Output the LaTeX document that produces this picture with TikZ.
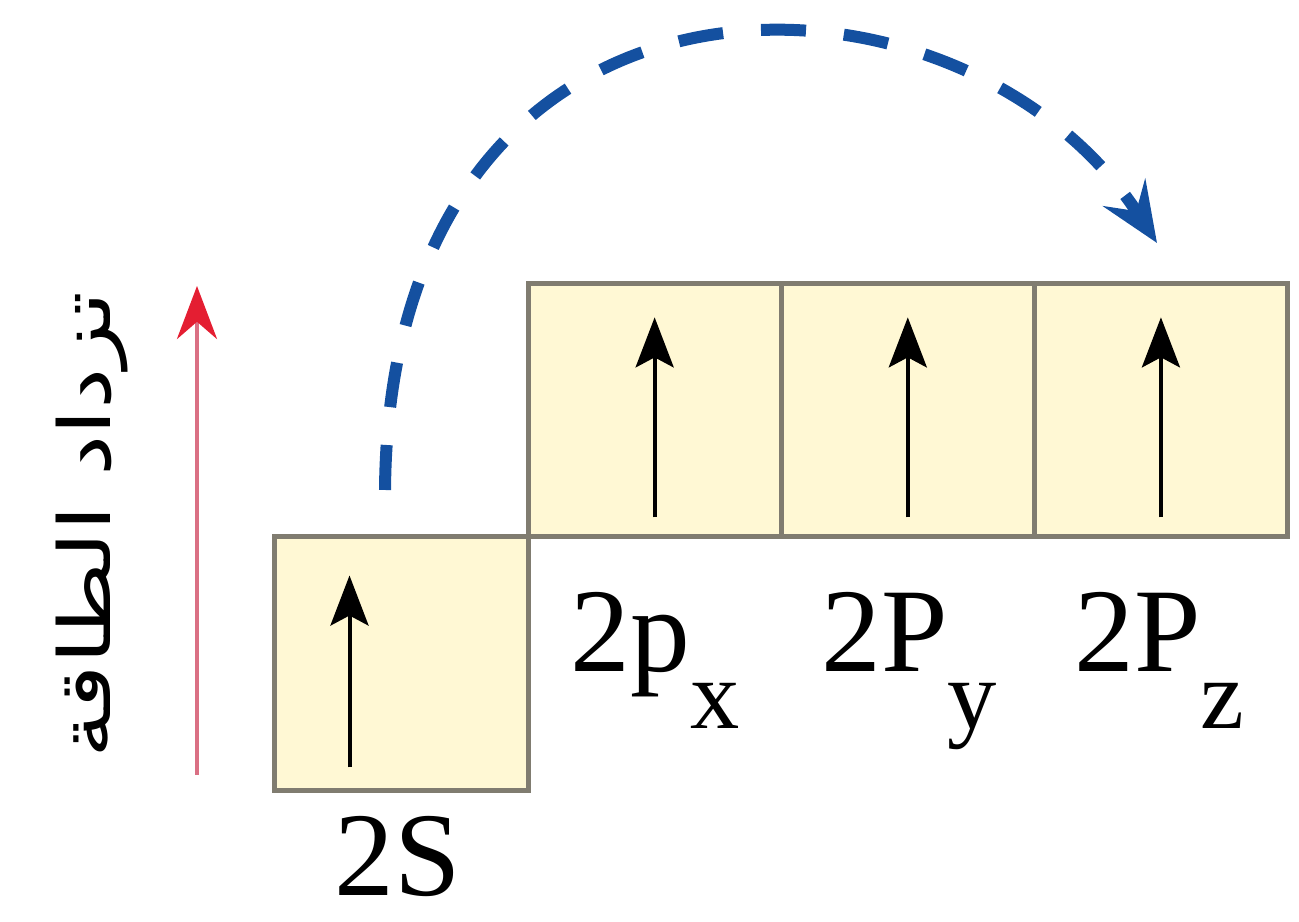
\documentclass[tikz,border=0pt]{standalone}
\usepackage{fontspec}
\setmainfont{Liberation Serif}
\newfontfamily\arabicfont[Script=Arabic]{DejaVu Sans}
\TeXXeTstate=1
\usetikzlibrary{arrows.meta,positioning}
\definecolor{BoxFill}{RGB}{255,248,212}
\definecolor{BoxLine}{RGB}{128,124,112}
\definecolor{Blue1}{RGB}{20,80,160}
\definecolor{Red1}{RGB}{228,30,50}
\definecolor{Pink1}{RGB}{218,112,132}
\tikzset{
  orbital/.style={draw=BoxLine,fill=BoxFill,line width=0.05cm,minimum size=2.53cm,inner sep=0pt,outer sep=0pt},
  spin/.style={line width=0.04cm,-{Stealth[length=0.5cm,width=0.38cm,inset=0.1cm]}},
  jump/.style={Blue1,line width=0.12cm,dash pattern=on 0.45cm off 0.38cm,-{Stealth[length=0.6cm,width=0.5cm,inset=0.22cm]}},
  energy/.style={Pink1,line width=0.045cm,-{Stealth[color=Red1,length=0.53cm,width=0.4cm]}},
  lbl/.style={font=\fontsize{34}{34}\selectfont,inner sep=0pt,anchor=base west}
}
\newcommand{\orbsub}[2]{#1\raisebox{-0.56cm}{\fontsize{28}{28}\selectfont #2}}

\begin{document}
\begin{tikzpicture}[x=0.01cm,y=-0.01cm]
\useasboundingbox (0,0) rectangle (1299,922);

\node[orbital] (s2) at (401.5,663.5) {};
\node[orbital,anchor=south west] (px) at (s2.north east) {};
\node[orbital,right=0pt of px] (py) {};
\node[orbital,right=0pt of py] (pz) {};

\draw[spin] (s2.center) ++(-52,104) -- ++(0,-192);
\foreach \b in {px,py,pz}
  \draw[spin] (\b.center) ++(0,107) -- ++(0,-200);

\node[lbl,anchor=base,text depth=0pt] (s2lbl) at (398,896) {2S};
\node[lbl] (pxlbl) at (570,672) {\orbsub{2p}{x}};
\node[lbl] (pylbl) at (821,672) {\orbsub{2P}{y}};
\node[lbl] (pzlbl) at (1074,672) {\orbsub{2P}{z}};

% electron jump
\coordinate (jumpstart) at (385,490);
\coordinate (jumpend) at (1157,243);
\draw[jump] (jumpstart) .. controls (390,-75) and (960,-60) .. (jumpend);

% energy axis
\coordinate (elow) at (197,775);
\coordinate (ehigh) at (197,286);
\draw[energy] (elow) -- (ehigh);
\node[rotate=90,inner sep=0pt,font=\arabicfont\fontsize{24}{24}\selectfont] (rise) at (92,525) {\scalebox{1.1}[0.85]{\beginR تزداد الطاقة\endR}};

\end{tikzpicture}
\end{document}
